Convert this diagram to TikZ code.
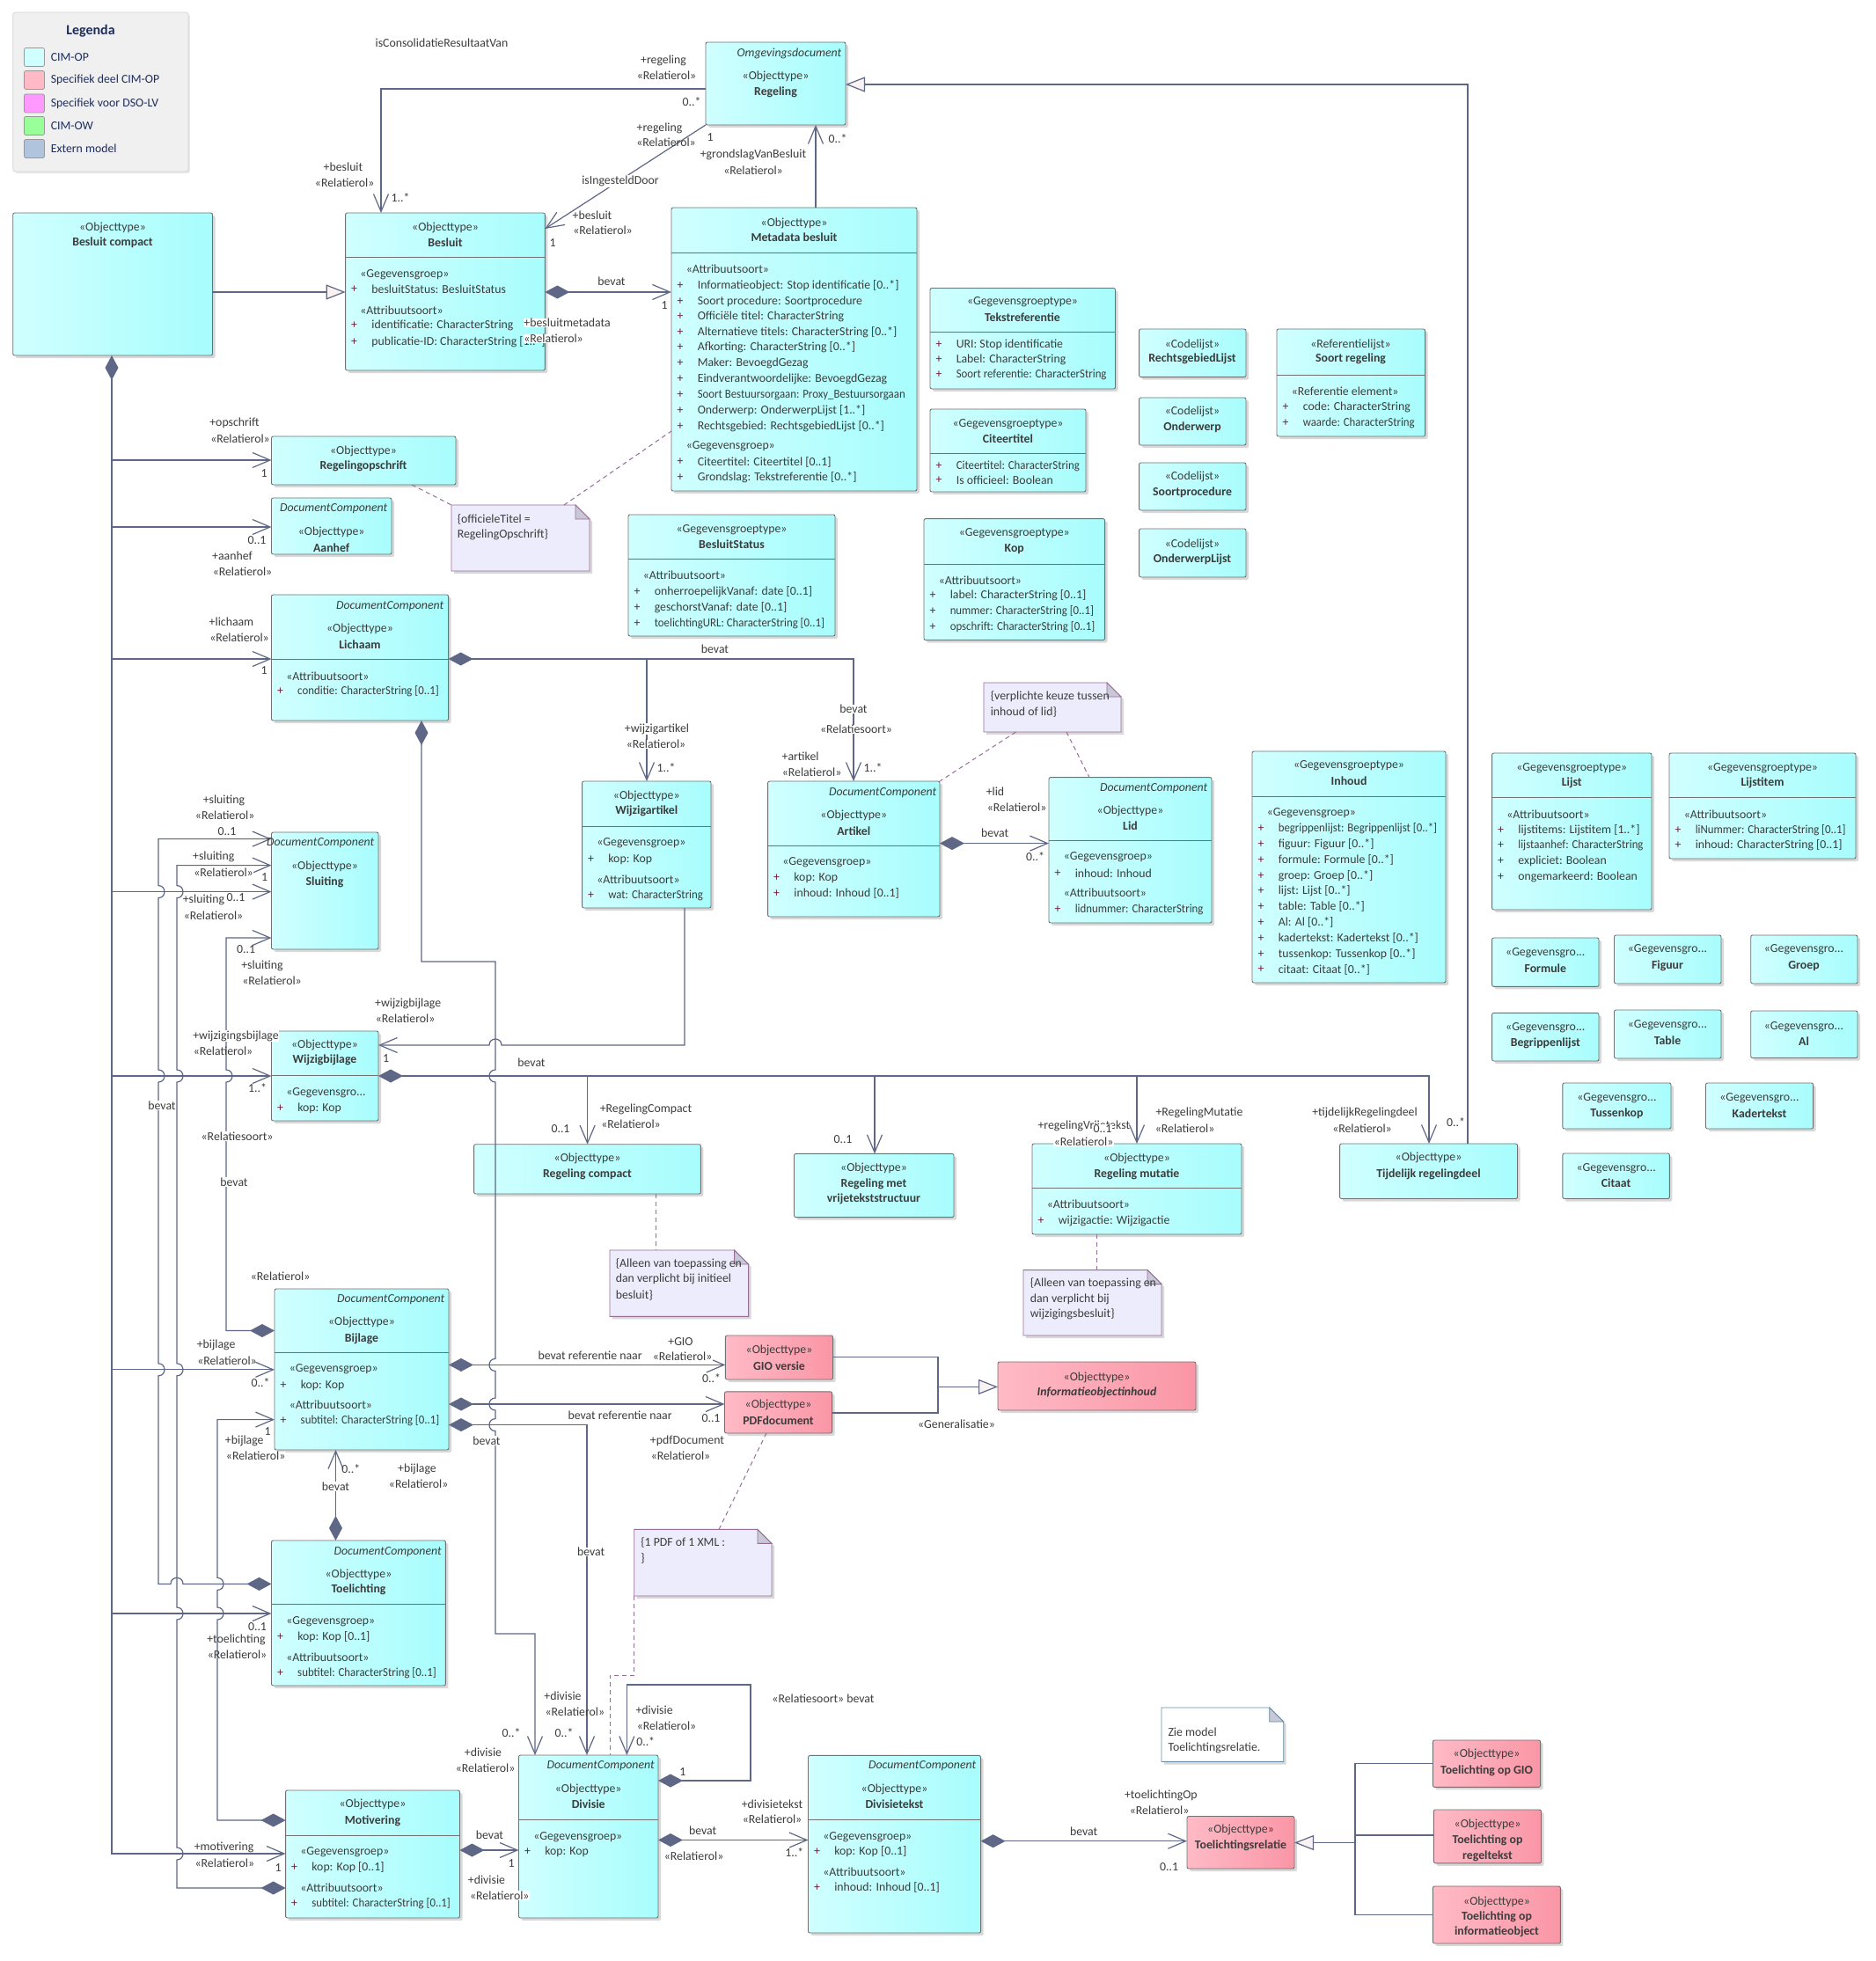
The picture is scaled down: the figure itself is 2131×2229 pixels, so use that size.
\documentclass[tikz,border=0pt]{standalone}
\usepackage{fontspec}
\setmainfont{Carlito}
\usetikzlibrary{arrows.meta,shadows}
\definecolor{cyL}{RGB}{208,255,255}
\definecolor{cyR}{RGB}{168,253,253}
\definecolor{pkL}{RGB}{255,186,198}
\definecolor{pkR}{RGB}{250,150,166}
\definecolor{bordc}{RGB}{112,112,112}
\definecolor{lc}{RGB}{94,104,134}
\definecolor{txtc}{RGB}{60,60,60}
\definecolor{plusc}{RGB}{110,30,60}
\definecolor{genf}{RGB}{250,242,242}
\definecolor{notef}{RGB}{236,236,252}
\definecolor{notel}{RGB}{150,110,150}
\definecolor{foldc}{RGB}{200,200,215}
\definecolor{legf}{RGB}{240,240,240}
\definecolor{legd}{RGB}{214,214,214}
\definecolor{navy}{RGB}{31,45,90}
\definecolor{zieb}{RGB}{100,140,165}
\newcommand\fs{\fontsize{13.8}{16}\selectfont}
\newcounter{tnc}
\newcommand\Tx[3][]{\stepcounter{tnc}\node[txt,#1] (tn\arabic{tnc}) at (#2) {#3};}
\newcommand\Attr[4][]{\stepcounter{tnc}\node[ptxt] (tn\arabic{tnc}) at ({#2+10},#3) {+};\stepcounter{tnc}\node[txt,anchor=west,#1] (tn\arabic{tnc}) at ({#2+29},#3) {#4};}
\newcommand\Ster[3]{\stepcounter{tnc}\node[txt,anchor=west] (tn\arabic{tnc}) at ({#1+16},#2) {#3};}
\newcommand\Bx[6][cls]{\node[#1,minimum width={#5-#3},minimum height={#6-#4}] (#2) at ({(#3+#5)/2},{(#4+#6)/2}) {};}
\newcommand\SepL[2]{\draw[sepl] (#1.west |- 0,#2) -- (#1.east |- 0,#2);}
\newcommand\NoteBox[7]{%
 \path[fill=#6,draw=#7,line width=0.9pt,drop shadow={shadow xshift=3pt,shadow yshift=-3pt,opacity=0.25,fill=black!60}] (#2,#3) -- ({#4-16},#3) -- (#4,{#3+16}) -- (#4,#5) -- (#2,#5) -- cycle;
 \path[fill=foldc,draw=#7,line width=0.9pt] ({#4-16},#3) -- ({#4-16},{#3+16}) -- (#4,{#3+16}) -- cycle;
 \node[inner sep=0,outer sep=0,minimum width={#4-#2},minimum height={#5-#3}] (#1) at ({(#2+#4)/2},{(#3+#5)/2}) {};}
\newcommand\jv[4]{-- ({#1},{#2-7*(#3)}) .. controls ({#1+9.3*(#4)},{#2-7*(#3)}) and ({#1+9.3*(#4)},{#2+7*(#3)}) .. ({#1},{#2+7*(#3)})}
\newcommand\jh[4]{-- ({#1-7*(#3)},{#2}) .. controls ({#1-7*(#3)},{#2+9.3*(#4)}) and ({#1+7*(#3)},{#2+9.3*(#4)}) .. ({#1+7*(#3)},{#2})}
\begin{document}
\begin{tikzpicture}[x=1pt,y=-1pt,
 txt/.style={inner sep=0.6pt,text=txtc,font=\fs},
 btxt/.style={font=\fs\bfseries},
 itxt/.style={font=\fs\itshape},
 ptxt/.style={txt,text=plusc},
 sq/.style={xscale=0.93},
 cls/.style={draw=bordc,line width=0.9pt,rounded corners=2pt,left color=cyL,right color=cyR,inner sep=0,outer sep=0,drop shadow={shadow xshift=3pt,shadow yshift=-3pt,opacity=0.25,fill=black!60}},
 pcls/.style={cls,left color=pkL,right color=pkR},
 swatch/.style={draw=gray!80,line width=0.8pt,rounded corners=2pt,minimum width=23,minimum height=21,inner sep=0},
 line/.style={draw=lc,line width=1.2pt},
 assoc/.style={line,-{Straight Barb[length=20pt,width=17pt]}},
 comp/.style={line,{Diamond[length=28pt,width=15pt,fill=lc]}-{Straight Barb[length=20pt,width=17pt]}},
 gen/.style={line,-{Triangle[length=22pt,width=17pt,fill=genf]}},
 dline/.style={draw=notel,line width=1pt,dash pattern=on 5pt off 4pt},
 sepl/.style={draw=bordc,line width=0.8pt}]
\fill[white] (0,0) rectangle (2131,2229);
\useasboundingbox (0,0) rectangle (2131,2229);

% ---------------- legend
\node[draw=legd,fill=legf,rounded corners=3pt,line width=0.8pt,minimum width=199.3,minimum height=181,inner sep=0,drop shadow={shadow xshift=2pt,shadow yshift=-2pt,opacity=0.15,fill=black!60}] (legend) at (114.35,104.5) {};
\Tx[font=\fontsize{16}{18}\selectfont\bfseries,text=navy]{103,35}{Legenda}
\node[swatch,fill=cyL] (sw1) at (39,65) {};
\node[swatch,fill=pkL] (sw2) at (39,91) {};
\node[swatch,fill={rgb,255:red,255;green,153;blue,255}] (sw3) at (39,117.5) {};
\node[swatch,fill={rgb,255:red,153;green,255;blue,153}] (sw4) at (39,143) {};
\node[swatch,fill={rgb,255:red,176;green,196;blue,222}] (sw5) at (39,169) {};
\Tx[anchor=west,text=navy]{57,65}{CIM-OP}
\Tx[anchor=west,text=navy]{57,91}{Specifiek deel CIM-OP}
\Tx[anchor=west,text=navy]{57,117.5}{Specifiek voor DSO-LV}
\Tx[anchor=west,text=navy]{57,143}{CIM-OW}
\Tx[anchor=west,text=navy]{57,169}{Extern model}

% ---------------- boxes
\Bx{besluitcompact}{14.7}{242}{241.5}{404}
\Bx{besluit}{392.6}{242}{619.4}{421}\SepL{besluit}{292}
\Bx{regeling}{802}{48}{961}{142}
\Bx{metadata}{763}{236}{1042}{558}\SepL{metadata}{287}
\Bx{tekstref}{1057}{327.5}{1267.5}{442}\SepL{tekstref}{377}
\Bx{citeertitel}{1057}{465}{1234}{559}\SepL{citeertitel}{515}
\Bx{rechtsgebied}{1294.6}{374}{1416}{428.6}
\Bx{onderwerp}{1294.6}{452}{1416}{506}
\Bx{soortproc}{1294.6}{526}{1416}{580}
\Bx{onderwerplijst}{1294.6}{601}{1416}{656}
\Bx{soortregeling}{1451}{374}{1619.6}{496}\SepL{soortregeling}{426}
\Bx{regelingopschrift}{308.5}{496}{518}{551}
\Bx{aanhef}{308.5}{566}{445}{630}
\Bx{lichaam}{308.5}{676}{509.6}{819}\SepL{lichaam}{749}
\Bx{besluitstatus}{714}{585}{949}{723}\SepL{besluitstatus}{635}
\Bx{kop}{1050}{589.6}{1255.6}{727.5}\SepL{kop}{641}
\Bx{wijzigartikel}{661.6}{888}{808}{1032}\SepL{wijzigartikel}{939}
\Bx{artikel}{872.6}{888}{1068}{1042}\SepL{artikel}{961.4}
\Bx{lid}{1192}{883.6}{1377}{1049}\SepL{lid}{955}
\Bx{inhoud}{1423}{854}{1643}{1117}\SepL{inhoud}{905}
\Bx{lijst}{1695.6}{856}{1877}{1034}\SepL{lijst}{906}
\Bx{lijstitem}{1897}{856}{2109}{976}\SepL{lijstitem}{906}
\Bx{formule}{1695.6}{1066}{1817}{1121.4}
\Bx{figuur}{1834.5}{1063}{1956}{1118}
\Bx{groep}{1989.7}{1063}{2111}{1118}
\Bx{begrippenlijst}{1695.6}{1151.4}{1817}{1206}
\Bx{table}{1834.5}{1148}{1956}{1203}
\Bx{al}{1989.7}{1149}{2111}{1202.5}
\Bx{tussenkop}{1775.8}{1231}{1899}{1283}
\Bx{kadertekst}{1938.5}{1231}{2060.6}{1283}
\Bx{citaat}{1775.8}{1311}{1897.4}{1362.5}
\Bx{sluiting}{308.5}{946}{430}{1079}
\Bx{wijzigbijlage}{308.5}{1172}{430}{1274}\SepL{wijzigbijlage}{1222}
\Bx{regelingcompact}{538.6}{1300.7}{796.4}{1357}
\Bx{regelingvrij}{902.5}{1311.4}{1084}{1383.6}
\Bx{regelingmutatie}{1173}{1300}{1411}{1403}\SepL{regelingmutatie}{1350.7}
\Bx{tijdelijk}{1522.6}{1300}{1724.5}{1362.5}
\Bx{bijlage}{312}{1465}{510}{1648}\SepL{bijlage}{1537}
\Bx[pcls]{gio}{824.4}{1518}{946.6}{1568}
\Bx[pcls]{pdf}{823.5}{1581.8}{945.6}{1629}
\Bx[pcls]{ioinhoud}{1134}{1548}{1359}{1603}
\Bx{toelichting}{308.5}{1751}{506.4}{1916}\SepL{toelichting}{1823.7}
\Bx{motivering}{324.6}{2035}{522.5}{2180}\SepL{motivering}{2086.3}
\Bx{divisie}{589.5}{1995}{748}{2180}\SepL{divisie}{2068}
\Bx{divisietekst}{918.5}{1995.4}{1114.6}{2197}\SepL{divisietekst}{2068}
\Bx[pcls]{toelichtingsrel}{1349}{2064.5}{1471}{2124}
\Bx[pcls]{toelgio}{1628.4}{1978}{1750.6}{2031.4}
\Bx[pcls]{toelregel}{1629.4}{2057}{1751.5}{2117.8}
\Bx[pcls]{toelio}{1628.4}{2144}{1773.4}{2209}

% ---------------- notes
\NoteBox{note1}{513}{574}{670}{649}{notef}{notel}
\NoteBox{note2}{1118}{776}{1274}{832}{notef}{notel}
\NoteBox{note3}{693}{1421}{850.6}{1496.4}{notef}{notel}
\NoteBox{note4}{1163}{1443.6}{1320}{1518}{notef}{notel}
\NoteBox{note5}{720.7}{1738.4}{877}{1814}{notef}{notel}
\NoteBox{note6}{1320}{1941}{1458.7}{2002.5}{white}{zieb}

% ---------------- connectors
\draw[assoc] (regeling.west |- 0,101) -- (433,101) -- (besluit.north -| 433,0);
\draw[assoc] (regeling.south west) -- (besluit.east |- 0,260);
\draw[assoc] (metadata.north -| 927,0) -- (regeling.south -| 927,0);
\draw[gen] (besluitcompact.east |- 0,332) -- (besluit.west |- 0,332);
\draw[comp] (besluit.east |- 0,332) -- (metadata.west |- 0,332);
\draw[gen] (tijdelijk.north -| 1668,0) -- (1668,96) -- (regeling.east |- 0,96);

\coordinate (trunk) at (127,0);
\draw[comp] (besluitcompact.south -| trunk) -- (127,2107) -- (motivering.west |- 0,2107);
\draw[assoc] (trunk |- 0,523) -- (regelingopschrift.west |- 0,523);
\draw[assoc] (trunk |- 0,599) -- (aanhef.west |- 0,599);
\draw[assoc] (trunk |- 0,749) -- (lichaam.west |- 0,749);
\draw[assoc] (trunk |- 0,1013.6) -- (sluiting.west |- 0,1013.6);
\draw[assoc] (trunk |- 0,1223) -- (wijzigbijlage.west |- 0,1223);
\draw[assoc] (trunk |- 0,1556.8) -- (bijlage.west |- 0,1556.8);
\draw[assoc] (trunk |- 0,1834) -- (toelichting.west |- 0,1834);

\draw[comp] (lichaam.east |- 0,749) -- (970,749) -- (artikel.north -| 970,0);
\coordinate (lbr) at (735,749);
\draw[assoc] (lbr) -- (wijzigartikel.north -| lbr);
\draw[comp] (artikel.east |- 0,958.6) -- (lid.west |- 0,958.6);

\draw[comp] (lichaam.south -| 479,0) -- (479,1093) -- (563,1093) \jv{563}{1223}{1}{-1} \jv{563}{1551.4}{1}{-1} \jv{563}{1596}{1}{-1} \jv{563}{1619.6}{1}{-1} -- (563,1857) -- (608,1857) -- (divisie.north -| 608,0);
\draw[assoc] (wijzigartikel.south -| 778,0) -- (778,1188) \jh{563}{1188}{-1}{-1} -- (wijzigbijlage.east |- 0,1188);

\draw[comp] (wijzigbijlage.east |- 0,1223) -- (1624,1223) -- (tijdelijk.north -| 1624,0);
\coordinate (wb1) at (667.6,1223);
\coordinate (wb2) at (994,1223);
\coordinate (wb3) at (1292,1223);
\draw[assoc] (wb1) -- (regelingcompact.north -| wb1);
\draw[assoc] (wb2) -- (regelingvrij.north -| wb2);
\draw[assoc] (wb3) -- (regelingmutatie.north -| wb3);

\draw[comp] (toelichting.west |- 0,1800.4) \jh{201}{1800.4}{-1}{-1} -- (180,1800.4) \jv{180}{1556.8}{-1}{1} \jv{180}{1223}{-1}{1} \jv{180}{1013.6}{-1}{1} -- (180,953.6) -- (sluiting.west |- 0,953.6);
\draw[comp] (motivering.west |- 0,2146) -- (201,2146) \jv{201}{2107}{-1}{1} \jv{201}{1834}{-1}{1} \jv{201}{1556.8}{-1}{1} \jv{201}{1223}{-1}{1} \jv{201}{1013.6}{-1}{1} -- (201,983.6) -- (sluiting.west |- 0,983.6);
\draw[comp] (bijlage.west |- 0,1512.5) -- (257,1512.5) \jv{257}{1223}{-1}{1} -- (257,1066) -- (sluiting.west |- 0,1066);

\draw[comp] (toelichting.north -| 381.5,0) -- (bijlage.south -| 381.5,0);
\draw[comp] (motivering.west |- 0,2069) -- (247,2069) \jv{247}{1834}{-1}{1} \jv{247}{1800.4}{-1}{1} -- (247,1613.6) -- (bijlage.west |- 0,1613.6);

\draw[comp] (bijlage.east |- 0,1551.4) -- (gio.west |- 0,1551.4);
\draw[comp] (bijlage.east |- 0,1596) -- (pdf.west |- 0,1596);
\draw[comp] (bijlage.east |- 0,1619.6) -- (667,1619.6) -- (divisie.north -| 667,0);

\draw[line] (gio.east |- 0,1542.5) -- (1066,1542.5) -- (1066,1606) -- (pdf.east |- 0,1606);
\coordinate (gj) at (1066,1576.4);
\draw[gen] (gj) -- (ioinhoud.west |- gj);

\draw[comp] (divisie.east |- 0,2024) -- (853,2024) -- (853,1915) -- (712.4,1915) -- (divisie.north -| 712.4,0);
\draw[comp] (motivering.east |- 0,2103) -- (divisie.west |- 0,2103);
\draw[comp] (divisie.east |- 0,2091.5) -- (divisietekst.west |- 0,2091.5);
\draw[comp] (divisietekst.east |- 0,2092.7) -- (toelichtingsrel.west |- 0,2092.7);
\coordinate (tj) at (1540,2094.5);
\draw[gen] (tj) -- (toelichtingsrel.east |- tj);
\draw[line] (toelgio.west |- 0,2004.4) -- (1540,2004.4) -- (1540,2176.4) -- (toelio.west |- 0,2176.4);
\draw[line] (toelregel.west |- 0,2086) -- (1540,2086);

\draw[dline] (regelingopschrift.south -| 468,0) -- (note1.north west);
\draw[dline] (note1.north -| 641,0) -- (metadata.west |- 0,490);
\draw[dline] (note2.south -| 1154.5,0) -- (artikel.north east);
\draw[dline] (note2.south -| 1212,0) -- (lid.north -| 1238,0);
\draw[dline] (regelingcompact.south -| 745,0) -- (note3.north -| 745,0);
\draw[dline] (regelingmutatie.south -| 1246,0) -- (note4.north -| 1246,0);
\draw[dline] (pdf.south -| 871,0) -- (note5.north -| 817,0);
\draw[dline] (note5.south west) -- (720.7,1904) -- (693,1904) -- (divisie.north -| 693,0);

% ---------------- box texts
\Tx{128,258.6}{«Objecttype»}\Tx[btxt]{128,276}{Besluit compact}

\Tx{506,258.6}{«Objecttype»}\Tx[btxt]{506,276}{Besluit}
\Ster{392.6}{312}{«Gegevensgroep»}
\Attr{392.6}{329}{besluitStatus: BesluitStatus}
\Ster{392.6}{353}{«Attribuutsoort»}
\Attr{392.6}{370}{identificatie: CharacterString}
\Attr{392.6}{388.6}{publicatie-ID: CharacterString [1..*]}

\Tx[itxt,anchor=east]{957,61}{Omgevingsdocument}
\Tx{881.5,87}{«Objecttype»}\Tx[btxt]{881.5,105}{Regeling}

\Tx{902.5,253.6}{«Objecttype»}\Tx[btxt]{902.5,270}{Metadata besluit}
\Ster{763}{306}{«Attribuutsoort»}
\Attr{763}{325}{Informatieobject: Stop identificatie [0..*]}
\Attr{763}{342.5}{Soort procedure: Soortprocedure}
\Attr{763}{360}{Officiële titel: CharacterString}
\Attr{763}{377.5}{Alternatieve titels: CharacterString [0..*]}
\Attr{763}{395}{Afkorting: CharacterString [0..*]}
\Attr{763}{413}{Maker: BevoegdGezag}
\Attr{763}{431}{Eindverantwoordelijke: BevoegdGezag}
\Attr[sq]{763}{449}{Soort Bestuursorgaan: Proxy\_Bestuursorgaan}
\Attr{763}{467}{Onderwerp: OnderwerpLijst [1..*]}
\Attr{763}{485}{Rechtsgebied: RechtsgebiedLijst [0..*]}
\Ster{763}{507}{«Gegevensgroep»}
\Attr{763}{525}{Citeertitel: Citeertitel [0..1]}
\Attr{763}{543}{Grondslag: Tekstreferentie [0..*]}

\Tx{1162,343.6}{«Gegevensgroeptype»}\Tx[btxt]{1162,361}{Tekstreferentie}
\Attr{1057}{392}{URI: Stop identificatie}
\Attr{1057}{408.6}{Label: CharacterString}
\Attr[sq]{1057}{426}{Soort referentie: CharacterString}

\Tx{1145.5,482}{«Gegevensgroeptype»}\Tx[btxt]{1145.5,499}{Citeertitel}
\Attr[sq]{1057}{530}{Citeertitel: CharacterString}
\Attr{1057}{546}{Is officieel: Boolean}

\Tx{1355,392}{«Codelijst»}\Tx[btxt]{1355,408}{RechtsgebiedLijst}
\Tx{1355,468}{«Codelijst»}\Tx[btxt]{1355,486}{Onderwerp}
\Tx{1355,542}{«Codelijst»}\Tx[btxt]{1355,559.6}{Soortprocedure}
\Tx{1355,618.6}{«Codelijst»}\Tx[btxt]{1355,635.7}{OnderwerpLijst}

\Tx{1535,392}{«Referentielijst»}\Tx[btxt]{1535,408}{Soort regeling}
\Ster{1451}{445}{«Referentie element»}
\Attr{1451}{463}{code: CharacterString}
\Attr[sq]{1451}{481}{waarde: CharacterString}

\Tx{413,513}{«Objecttype»}\Tx[btxt]{413,530}{Regelingopschrift}

\Tx[itxt,anchor=east]{441,578.6}{DocumentComponent}
\Tx{376.7,604.6}{«Objecttype»}\Tx[btxt]{376.7,622.5}{Aanhef}

\Tx[itxt,anchor=east]{505,689}{DocumentComponent}
\Tx{409,715}{«Objecttype»}\Tx[btxt]{409,733}{Lichaam}
\Ster{308.5}{768.6}{«Attribuutsoort»}
\Attr[sq]{308.5}{786}{conditie: CharacterString [0..1]}

\Tx{831.5,602}{«Gegevensgroeptype»}\Tx[btxt]{831.5,619}{BesluitStatus}
\Ster{714}{654}{«Attribuutsoort»}
\Attr{714}{673}{onherroepelijkVanaf: date [0..1]}
\Attr{714}{691}{geschorstVanaf: date [0..1]}
\Attr[sq]{714}{708.6}{toelichtingURL: CharacterString [0..1]}

\Tx{1152.8,606}{«Gegevensgroeptype»}\Tx[btxt]{1152.8,624}{Kop}
\Ster{1050}{659.6}{«Attribuutsoort»}
\Attr{1050}{677}{label: CharacterString [0..1]}
\Attr[sq]{1050}{694.6}{nummer: CharacterString [0..1]}
\Attr[sq]{1050}{712.5}{opschrift: CharacterString [0..1]}

\Tx{734.8,905}{«Objecttype»}\Tx[btxt]{734.8,922}{Wijzigartikel}
\Ster{661.6}{958.6}{«Gegevensgroep»}
\Attr{661.6}{976.4}{kop: Kop}
\Ster{661.6}{1000}{«Attribuutsoort»}
\Attr[sq]{661.6}{1018}{wat: CharacterString}

\Tx[itxt,anchor=east]{1065,900.7}{DocumentComponent}
\Tx{970.3,926.4}{«Objecttype»}\Tx[btxt]{970.3,944.3}{Artikel}
\Ster{872.6}{980}{«Gegevensgroep»}
\Attr{872.6}{998}{kop: Kop}
\Attr{872.6}{1015.7}{inhoud: Inhoud [0..1]}

\Tx[itxt,anchor=east]{1373,895.7}{DocumentComponent}
\Tx{1284.5,921.4}{«Objecttype»}\Tx[btxt]{1284.5,939}{Lid}
\Ster{1192}{974.6}{«Gegevensgroep»}
\Attr{1192}{992.5}{inhoud: Inhoud}
\Ster{1192}{1015}{«Attribuutsoort»}
\Attr[sq]{1192}{1034}{lidnummer: CharacterString}

\Tx{1533,870}{«Gegevensgroeptype»}\Tx[btxt]{1533,888}{Inhoud}
\Ster{1423}{924.6}{«Gegevensgroep»}
\Attr[sq]{1423}{941.8}{begrippenlijst: Begrippenlijst [0..*]}
\Attr{1423}{959.6}{figuur: Figuur [0..*]}
\Attr{1423}{977.4}{formule: Formule [0..*]}
\Attr{1423}{995.2}{groep: Groep [0..*]}
\Attr{1423}{1013}{lijst: Lijst [0..*]}
\Attr{1423}{1030.8}{table: Table [0..*]}
\Attr{1423}{1048.6}{Al: Al [0..*]}
\Attr{1423}{1066.4}{kadertekst: Kadertekst [0..*]}
\Attr{1423}{1084.2}{tussenkop: Tussenkop [0..*]}
\Attr{1423}{1102}{citaat: Citaat [0..*]}

\Tx{1786.3,873}{«Gegevensgroeptype»}\Tx[btxt]{1786.3,890}{Lijst}
\Ster{1695.6}{925.7}{«Attribuutsoort»}
\Attr{1695.6}{943.6}{lijstitems: Lijstitem [1..*]}
\Attr[sq]{1695.6}{961}{lijstaanhef: CharacterString}
\Attr{1695.6}{979}{expliciet: Boolean}
\Attr{1695.6}{996.6}{ongemarkeerd: Boolean}

\Tx{2003,873}{«Gegevensgroeptype»}\Tx[btxt]{2003,890}{Lijstitem}
\Ster{1897}{925.7}{«Attribuutsoort»}
\Attr[sq]{1897}{943.6}{liNummer: CharacterString [0..1]}
\Attr{1897}{961}{inhoud: CharacterString [0..1]}

\Tx{1756.3,1083}{«Gegevensgro...}\Tx[btxt]{1756.3,1100.7}{Formule}
\Tx{1895,1079.6}{«Gegevensgro...}\Tx[btxt]{1895,1098}{Figuur}
\Tx{2050,1079.6}{«Gegevensgro...}\Tx[btxt]{2050,1098}{Groep}
\Tx{1756.3,1168}{«Gegevensgro...}\Tx[btxt]{1756.3,1185.7}{Begrippenlijst}
\Tx{1895,1165}{«Gegevensgro...}\Tx[btxt]{1895,1183}{Table}
\Tx{2050,1166.8}{«Gegevensgro...}\Tx[btxt]{2050,1183.6}{Al}
\Tx{1837.4,1248.6}{«Gegevensgro...}\Tx[btxt]{1837.4,1265.7}{Tussenkop}
\Tx{1999.5,1248.6}{«Gegevensgro...}\Tx[btxt]{1999.5,1265.7}{Kadertekst}
\Tx{1836.6,1328}{«Gegevensgro...}\Tx[btxt]{1836.6,1345}{Citaat}

\Tx[itxt,anchor=east]{426,958.6}{DocumentComponent}
\Tx{369,984.6}{«Objecttype»}\Tx[btxt]{369,1003}{Sluiting}

\Tx{369,1187.5}{«Objecttype»}\Tx[btxt]{369,1205}{Wijzigbijlage}
\Ster{308.5}{1241.8}{«Gegevensgro...}
\Attr{308.5}{1259.6}{kop: Kop}

\Tx{667.5,1316.4}{«Objecttype»}\Tx[btxt]{667.5,1334.6}{Regeling compact}
\Tx{993,1327.5}{«Objecttype»}\Tx[btxt]{993,1345.4}{Regeling met}\Tx[btxt]{993,1363}{vrijetekststructuur}
\Tx{1292,1316.4}{«Objecttype»}\Tx[btxt]{1292,1334.6}{Regeling mutatie}
\Ster{1173}{1369}{«Attribuutsoort»}
\Attr{1173}{1387.5}{wijzigactie: Wijzigactie}
\Tx{1623.5,1316}{«Objecttype»}\Tx[btxt]{1623.5,1334.6}{Tijdelijk regelingdeel}

\Tx[itxt,anchor=east]{506,1477.5}{DocumentComponent}
\Tx{411,1503}{«Objecttype»}\Tx[btxt]{411,1521.4}{Bijlage}
\Ster{312}{1556}{«Gegevensgroep»}
\Attr{312}{1574.6}{kop: Kop}
\Ster{312}{1597}{«Attribuutsoort»}
\Attr[sq]{312}{1615}{subtitel: CharacterString [0..1]}

\Tx{885.5,1535}{«Objecttype»}\Tx[btxt]{885.5,1552.5}{GIO versie}
\Tx{884.5,1597}{«Objecttype»}\Tx[btxt]{884.5,1615}{PDFdocument}
\Tx{1246.5,1565.4}{«Objecttype»}\Tx[font=\fs\bfseries\itshape]{1246.5,1583}{Informatieobjectinhoud}

\Tx[itxt,anchor=east]{502.5,1764}{DocumentComponent}
\Tx{407.5,1789.5}{«Objecttype»}\Tx[btxt]{407.5,1807}{Toelichting}
\Ster{308.5}{1843}{«Gegevensgroep»}
\Attr{308.5}{1861}{kop: Kop [0..1]}
\Ster{308.5}{1883.4}{«Attribuutsoort»}
\Attr[sq]{308.5}{1901.8}{subtitel: CharacterString [0..1]}

\Tx{423.5,2051}{«Objecttype»}\Tx[btxt]{423.5,2069.4}{Motivering}
\Ster{324.6}{2104.7}{«Gegevensgroep»}
\Attr{324.6}{2122.7}{kop: Kop [0..1]}
\Ster{324.6}{2146}{«Attribuutsoort»}
\Attr[sq]{324.6}{2163.3}{subtitel: CharacterString [0..1]}

\Tx[itxt,anchor=east]{744.5,2007.4}{DocumentComponent}
\Tx{668.7,2033.7}{«Objecttype»}\Tx[btxt]{668.7,2051}{Divisie}
\Ster{589.5}{2087.8}{«Gegevensgroep»}
\Attr{589.5}{2105}{kop: Kop}

\Tx[itxt,anchor=east]{1110,2007.4}{DocumentComponent}
\Tx{1016.5,2033.7}{«Objecttype»}\Tx[btxt]{1016.5,2051}{Divisietekst}
\Ster{918.5}{2087.8}{«Gegevensgroep»}
\Attr{918.5}{2105}{kop: Kop [0..1]}
\Ster{918.5}{2128}{«Attribuutsoort»}
\Attr{918.5}{2145.6}{inhoud: Inhoud [0..1]}

\Tx{1410,2080}{«Objecttype»}\Tx[btxt]{1410,2098}{Toelichtingsrelatie}
\Tx{1689.5,1994}{«Objecttype»}\Tx[btxt]{1689.5,2012.6}{Toelichting op GIO}
\Tx{1690.5,2073.5}{«Objecttype»}\Tx[btxt]{1690.5,2091.5}{Toelichting op}\Tx[btxt]{1690.5,2109.6}{regeltekst}
\Tx{1701,2161.4}{«Objecttype»}\Tx[btxt]{1701,2178.7}{Toelichting op}\Tx[btxt]{1701,2196}{informatieobject}

% note texts
\Tx[anchor=west]{519,590}{\{officieleTitel =}
\Tx[anchor=west]{519,608}{RegelingOpschrift\}}
\Tx[anchor=west]{1125,792}{\{verplichte keuze tussen}
\Tx[anchor=west]{1125,809}{inhoud of lid\}}
\Tx[anchor=west]{699,1436.4}{\{Alleen van toepassing en}
\Tx[anchor=west]{699,1454}{dan verplicht bij initieel}
\Tx[anchor=west]{699,1472}{besluit\}}
\Tx[anchor=west]{1170,1458.6}{\{Alleen van toepassing en}
\Tx[anchor=west]{1170,1476.4}{dan verplicht bij}
\Tx[anchor=west]{1170,1494}{wijzigingsbesluit\}}
\Tx[anchor=west]{727.5,1753.4}{\{1 PDF of 1 XML :}
\Tx[anchor=west]{727.5,1771.5}{\}}
\Tx[anchor=west]{1326.7,1968.7}{Zie model}
\Tx[anchor=west]{1326.7,1986.4}{Toelichtingsrelatie.}

% ---------------- connector labels
\Tx{502,49}{isConsolidatieResultaatVan}
\Tx{754,69}{+regeling}
\Tx{757.5,86}{«Relatierol»}
\Tx{786,116}{0..*}
\Tx{390,190}{+besluit}
\Tx{391.7,208}{«Relatierol»}
\Tx{455,225}{1..*}
\Tx[fill=white]{705,206}{isIngesteldDoor}
\Tx{749.5,146}{+regeling}
\Tx{757,162}{«Relatierol»}
\Tx{807,156}{1}
\Tx{673,245}{+besluit}
\Tx{685,262}{«Relatierol»}
\Tx{628,276}{1}
\Tx{856,176}{+grondslagVanBesluit}
\Tx{856,194}{«Relatierol»}
\Tx{952,158}{0..*}
\Tx{695,320}{bevat}
\Tx{755,347}{1}
\Tx[fill=white]{644.6,367}{+besluitmetadata}
\Tx[fill=white]{629,385}{«Relatierol»}

\Tx{266.5,481}{+opschrift}
\Tx[fill=white]{273,499}{«Relatierol»}
\Tx{300,538}{1}
\Tx{292,614}{0..1}
\Tx{264,632}{+aanhef}
\Tx{275.5,650}{«Relatierol»}
\Tx{263,707}{+lichaam}
\Tx[fill=white]{272,724.6}{«Relatierol»}
\Tx{300,762.5}{1}
\Tx{231.5,1023}{+sluiting}
\Tx{242.5,1041}{«Relatierol»}
\Tx{268,1019.6}{0..1}
\Tx[fill=white]{268,1177.5}{+wijzigingsbijlage}
\Tx{253.5,1194.6}{«Relatierol»}
\Tx{292.5,1237}{1..*}
\Tx{245.6,1528.6}{+bijlage}
\Tx{258,1546.4}{«Relatierol»}
\Tx{296,1572}{0..*}
\Tx{292.5,1849}{0..1}
\Tx{268.4,1863.5}{+toelichting}
\Tx{269.5,1880.4}{«Relatierol»}
\Tx{254.6,2100}{+motivering}
\Tx{255.4,2117.8}{«Relatierol»}
\Tx{316,2122.7}{1}

\Tx{254.4,910}{+sluiting}
\Tx{255.7,926.4}{«Relatierol»}
\Tx{258,944.6}{0..1}
\Tx{242.8,974}{+sluiting}
\Tx[fill=white]{254,992}{«Relatierol»}
\Tx{300.7,997.5}{1}
\Tx{279.6,1079}{0..1}
\Tx{298,1098}{+sluiting}
\Tx{309,1115}{«Relatierol»}
\Tx[fill=white]{184,1256.4}{bevat}
\Tx[fill=white]{269.6,1291.8}{«Relatiesoort»}
\Tx[fill=white]{266,1343.6}{bevat}
\Tx{318.6,1450.7}{«Relatierol»}

\Tx{812.5,738}{bevat}
\Tx[fill=white]{970,806}{bevat}
\Tx[fill=white]{973,829}{«Relatiesoort»}
\Tx{909.6,859.6}{+artikel}
\Tx{922.6,877.5}{«Relatierol»}
\Tx{992,873}{1..*}
\Tx[fill=white]{746.5,828.6}{+wijzigartikel}
\Tx[fill=white]{745.5,846}{«Relatierol»}
\Tx{757,873}{1..*}
\Tx{1130.7,947}{bevat}
\Tx{1131,900}{+lid}
\Tx{1155.6,918}{«Relatierol»}
\Tx{1176.5,974}{0..*}

\Tx[fill=white]{553,1637.5}{bevat}
\Tx{581,1969.5}{0..*}
\Tx{549,1992}{+divisie}
\Tx{551.6,2010}{«Relatierol»}

\Tx{463.7,1140.7}{+wijzigbijlage}
\Tx{460.6,1157.5}{«Relatierol»}
\Tx{438.5,1203}{1}

\Tx{604,1208}{bevat}
\Tx{637,1283}{0..1}
\Tx{734,1261}{+RegelingCompact}
\Tx{717,1278}{«Relatierol»}
\Tx{958,1294.6}{0..1}
\Tx{1363,1265}{+RegelingMutatie}
\Tx{1346.6,1283}{«Relatierol»}
\Tx{1231.8,1280}{+regelingVrijetekst}
\Tx[fill=white]{1253,1283}{0..1}
\Tx[fill=white]{1231.6,1297.5}{«Relatierol»}
\Tx{1551,1264.6}{+tijdelijkRegelingdeel}
\Tx{1548,1283}{«Relatierol»}
\Tx[fill=white]{1654.6,1275.7}{0..*}

\Tx{398.8,1670}{0..*}
\Tx[fill=white]{381.5,1689.6}{bevat}
\Tx{474,1669.7}{+bijlage}
\Tx{475.7,1686.6}{«Relatierol»}
\Tx{304,1627.5}{1}
\Tx{277.8,1637.5}{+bijlage}
\Tx[fill=white]{290.7,1655}{«Relatierol»}

\Tx{670.6,1540.7}{bevat referentie naar}
\Tx{773.5,1524.6}{+GIO}
\Tx[fill=white]{775.6,1541.8}{«Relatierol»}
\Tx{808.6,1566.4}{0..*}
\Tx{704.6,1608.6}{bevat referentie naar}
\Tx{808,1612}{0..1}
\Tx{781,1637.5}{+pdfDocument}
\Tx{773.5,1655}{«Relatierol»}
\Tx[fill=white]{671.7,1764}{bevat}
\Tx{639.5,1927.7}{+divisie}
\Tx{653.4,1945.4}{«Relatierol»}
\Tx{641,1969.5}{0..*}
\Tx{1087,1618.6}{«Generalisatie»}

\Tx{743.6,1943.5}{+divisie}
\Tx{757.5,1961.6}{«Relatierol»}
\Tx{733.7,1980}{0..*}
\Tx{775.8,2014.5}{1}
\Tx{935.5,1930.4}{«Relatiesoort» bevat}
\Tx{556.5,2085.5}{bevat}
\Tx{581,2118}{1}
\Tx{553,2136.6}{+divisie}
\Tx[fill=white]{567.8,2154.7}{«Relatierol»}
\Tx{798.7,2080.6}{bevat}
\Tx{788.6,2110}{«Relatierol»}
\Tx{877.5,2050.6}{+divisietekst}
\Tx{877.5,2068}{«Relatierol»}
\Tx{902.8,2106}{1..*}
\Tx{1231.7,2081.4}{bevat}
\Tx{1319.4,2041}{+toelichtingOp}
\Tx{1317.6,2058}{«Relatierol»}
\Tx{1328.6,2121.6}{0..1}
\end{tikzpicture}
\end{document}
